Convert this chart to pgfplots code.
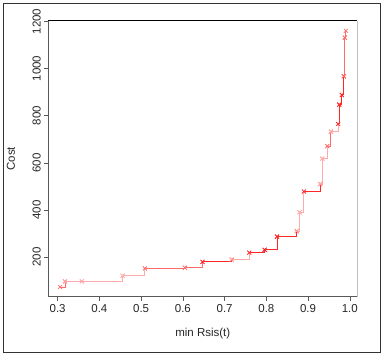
\documentclass[border=0pt]{standalone}
\usepackage{fontspec}
\setmainfont{Liberation Sans}
\usepackage{pgfplots}
\pgfplotsset{compat=1.18}
\definecolor{sA}{rgb}{1,0.15,0.15}
\definecolor{sB}{rgb}{1,0.42,0.42}
\definecolor{sC}{rgb}{1,0.67,0.67}
\definecolor{axg}{rgb}{0.35,0.35,0.35}
\begin{document}
\begin{tikzpicture}
\begin{axis}[
  at={(0,0)}, anchor=south west,
  scale only axis, width=309pt, height=276pt,
  xmin=0.2776, xmax=1.0179, ymin=32, ymax=1203,
  axis line style={draw=none},
  xtick={0.3,0.4,0.5,0.6,0.7,0.8,0.9,1.0},
  ytick={200,400,600,800,1000,1200},
  xticklabel style={/pgf/number format/.cd,fixed,fixed zerofill,precision=1,/tikz/.cd},
  yticklabel style={rotate=90, anchor=south, /pgf/number format/1000 sep={}},
  /pgf/number format/assume math mode=true,
  tick align=outside, major tick length=4pt,
  tick style={axg, line width=0.6pt},
  xtick pos=bottom, ytick pos=left,
  ticklabel style={font=\fontsize{11.5}{13}\selectfont, text=black!85},
  label style={font=\fontsize{11.5}{13}\selectfont, text=black!85},
  xlabel={min Rsis(t)}, ylabel={Cost},
  xlabel style={at={(axis description cs:0.5,0)}, anchor=center, yshift=-36.5pt},
  ylabel style={at={(axis description cs:0,0.5)}, anchor=center, yshift=37.3pt},
  clip=false,
]
\draw[axg, line width=0.7pt] (rel axis cs:0,1) -- (rel axis cs:0,0) -- (rel axis cs:1,0);
\draw[black!25, line width=0.7pt] (rel axis cs:1,0) -- (rel axis cs:1,1);
\draw[black, line width=1pt] (rel axis cs:0,1) -- (rel axis cs:1,1);
\pgfplotsset{seg/.style={const plot, draw=#1, line width=0.9pt, mark=x, mark size=2.8pt, mark options={draw=#1, line width=0.7pt, solid}}}
\addplot[seg=sB] coordinates {(0.306,73) (0.3175,97)};
\addplot[seg=sC] coordinates {(0.3175,97) (0.358,97)};
\addplot[seg=sC] coordinates {(0.358,97) (0.4555,121)};
\addplot[seg=sC] coordinates {(0.4555,121) (0.509,152)};
\addplot[seg=sB] coordinates {(0.509,152) (0.605,155)};
\addplot[seg=sB] coordinates {(0.605,155) (0.647,180)};
\addplot[seg=sA] coordinates {(0.647,180) (0.717,189)};
\addplot[seg=sC] coordinates {(0.717,189) (0.759,219)};
\addplot[seg=sA] coordinates {(0.759,219) (0.796,231)};
\addplot[seg=sA] coordinates {(0.796,231) (0.8255,287)};
\addplot[seg=sA] coordinates {(0.8255,287) (0.873,310)};
\addplot[seg=sC] coordinates {(0.873,310) (0.8797,390)};
\addplot[seg=sC] coordinates {(0.8797,390) (0.890,478)};
\addplot[seg=sA] coordinates {(0.890,478) (0.929,510)};
\addplot[seg=sC] coordinates {(0.929,510) (0.934,618)};
\addplot[seg=sC] coordinates {(0.934,618) (0.946,671)};
\addplot[seg=sB] coordinates {(0.946,671) (0.9546,732)};
\addplot[seg=sC] coordinates {(0.9546,732) (0.972,765)};
\addplot[seg=sA] coordinates {(0.972,765) (0.9746,847)};
\addplot[seg=sA] coordinates {(0.9746,847) (0.981,888)};
\addplot[seg=sA] coordinates {(0.981,888) (0.9857,967)};
\addplot[seg=sB] coordinates {(0.9857,967) (0.988,1131)};
\addplot[seg=sB] coordinates {(0.988,1131) (0.9905,1160)};
\end{axis}
\draw[black!80, line width=0.8pt] (-45.3pt,-55.3pt) rectangle (331.7pt,293.7pt);
\useasboundingbox (-48.3pt,-58.3pt) rectangle (335.7pt,296.7pt);
\end{tikzpicture}
\end{document}
